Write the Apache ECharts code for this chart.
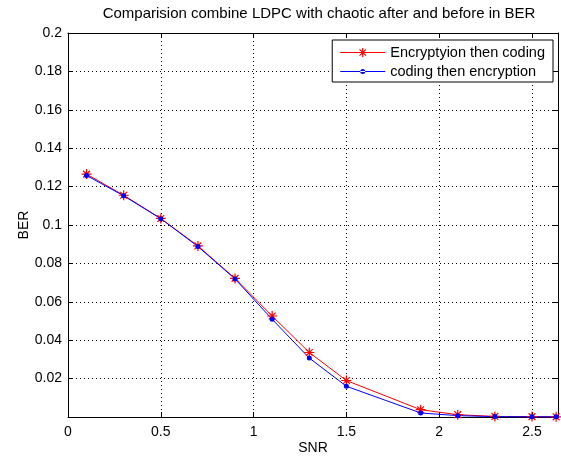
<!DOCTYPE html>
<html>
<head>
<meta charset="utf-8">
<script src="https://cdn.jsdelivr.net/npm/echarts@6/dist/echarts.min.js"></script>
<style>
html,body{margin:0;padding:0;background:#fff;overflow:hidden;}
#c{width:561px;height:457px;}
</style>
</head>
<body>
<div id="c"></div>
<script>
var titleText = 'Comparision combine LDPC with chaotic after and before in BER';
var xName = 'SNR';
var yName = 'BER';
var seriesNames = ['Encryptyion then coding', 'coding then encryption'];
var snr = [0.1, 0.3, 0.5, 0.7, 0.9, 1.1, 1.3, 1.5, 1.9, 2.1, 2.3, 2.5, 2.63];
var berEncThenCode = [0.1265, 0.1155, 0.1034, 0.0891, 0.0722, 0.0526, 0.0336, 0.0190, 0.0038, 0.0012, 0.0003, 0.0002, 0.0001];
var berCodeThenEnc = [0.1258, 0.1152, 0.1033, 0.0888, 0.0719, 0.0509, 0.0307, 0.0160, 0.0021, 0.0007, 0.0002, 0.0001, 0.0001];
var xMin = 0, xMax = 2.64, xStep = 0.5;
var yMin = 0, yMax = 0.2, yStep = 0.02;

function pairs(xs, ys){ return xs.map(function(x,i){ return [x, ys[i]]; }); }

var FONT = 'Liberation Sans, Arial, sans-serif';
var asterisk = 'path://M5 0L5 10M0 5L10 5M1.6 1.6L8.4 8.4M8.4 1.6L1.6 8.4';
// legend icons drawn in a 45x14 box: 1px line through the middle plus marker
var bboxFix = ' M0 0L0.01 0L0.01 0.01Z M44.99 13.99L45 13.99L45 14Z';
var lineIcon = 'M0 6.5L45 6.5L45 7.5L0 7.5Z';
var dotLegendIcon = 'path://' + lineIcon + ' M20 7A2.5 2.5 0 1 0 25 7A2.5 2.5 0 1 0 20 7Z' + bboxFix;
var starLegendIcon = 'path://' + lineIcon +
  ' M21.9 2.5L23.1 2.5L23.1 11.5L21.9 11.5Z' +
  ' M18.5 6.4L26.5 6.4L26.5 7.6L18.5 7.6Z' +
  ' M19.72 3.38L26.12 9.78L25.28 10.62L18.88 4.22Z' +
  ' M26.12 4.22L19.72 10.62L18.88 9.78L25.28 3.38Z' + bboxFix;

var chart = echarts.init(document.getElementById('c'), null, {renderer:'canvas'});
var gridLine = {show:true, lineStyle:{color:'#000', type:[1,3], width:1}};
chart.setOption({
  backgroundColor:'#fff',
  animation:false,
  title:{
    text:titleText, left:314, top:1, textAlign:'center',
    textStyle:{fontFamily:FONT, fontSize:15, fontWeight:'normal', color:'#000'}
  },
  legend:{
    right:8, top:40, orient:'vertical',
    backgroundColor:'#fff', borderColor:'#000', borderWidth:1,
    padding:[5,8,3,8], itemGap:4, itemWidth:45, itemHeight:14,
    textStyle:{fontFamily:FONT, fontSize:14.5, color:'#000'},
    data:[
      {name:seriesNames[0], icon:starLegendIcon, itemStyle:{color:'#ff0000', borderWidth:0, borderColor:'transparent'}},
      {name:seriesNames[1], icon:dotLegendIcon, itemStyle:{color:'#0000ff', borderWidth:0, borderColor:'transparent'}}
    ]
  },
  grid:{left:68, right:3, top:33, bottom:40, outerBoundsMode:'none', containLabel:false},
  xAxis:[{
    type:'value', min:xMin, max:xMax, interval:xStep, position:'bottom',
    name:xName, nameLocation:'middle', nameGap:24, nameMoveOverlap:false,
    nameTextStyle:{fontFamily:FONT, fontSize:14, color:'#000'},
    axisLine:{show:true, onZero:false, lineStyle:{color:'#000', width:1}},
    axisTick:{show:true, inside:true, length:5, lineStyle:{color:'#000'}},
    axisLabel:{fontFamily:FONT, fontSize:14, color:'#000', margin:8, showMaxLabel:false},
    splitLine:gridLine
  },{
    type:'value', min:xMin, max:xMax, interval:xStep, position:'top',
    axisLine:{show:true, onZero:false, lineStyle:{color:'#000', width:1}},
    axisTick:{show:true, inside:true, length:5, lineStyle:{color:'#000'}},
    axisLabel:{show:false}, splitLine:{show:false}
  }],
  yAxis:[{
    type:'value', min:yMin, max:yMax, interval:yStep, position:'left',
    name:yName, nameLocation:'middle', nameGap:37, nameRotate:90, nameMoveOverlap:false,
    nameTextStyle:{fontFamily:FONT, fontSize:14, color:'#000'},
    axisLine:{show:true, onZero:false, lineStyle:{color:'#000', width:1}},
    axisTick:{show:true, inside:true, length:5, lineStyle:{color:'#000'}},
    axisLabel:{fontFamily:FONT, fontSize:14, color:'#000', margin:6, showMinLabel:false},
    splitLine:gridLine
  },{
    type:'value', min:yMin, max:yMax, interval:yStep, position:'right',
    axisLine:{show:true, onZero:false, lineStyle:{color:'#000', width:1}},
    axisTick:{show:true, inside:true, length:5, lineStyle:{color:'#000'}},
    axisLabel:{show:false}, splitLine:{show:false}
  }],
  series:[{
    name:seriesNames[0], type:'line', data:pairs(snr, berEncThenCode),
    symbol:asterisk, symbolSize:10, showAllSymbol:true, clip:false,
    lineStyle:{color:'#ff0000', width:1},
    itemStyle:{color:'#ff0000', borderColor:'#ff0000', borderWidth:1.2}
  },{
    name:seriesNames[1], type:'line', data:pairs(snr, berCodeThenEnc),
    symbol:'circle', symbolSize:5, showAllSymbol:true, clip:false,
    lineStyle:{color:'#0000ff', width:1},
    itemStyle:{color:'#0000ff', borderWidth:0}
  }]
});
</script>
</body>
</html>
